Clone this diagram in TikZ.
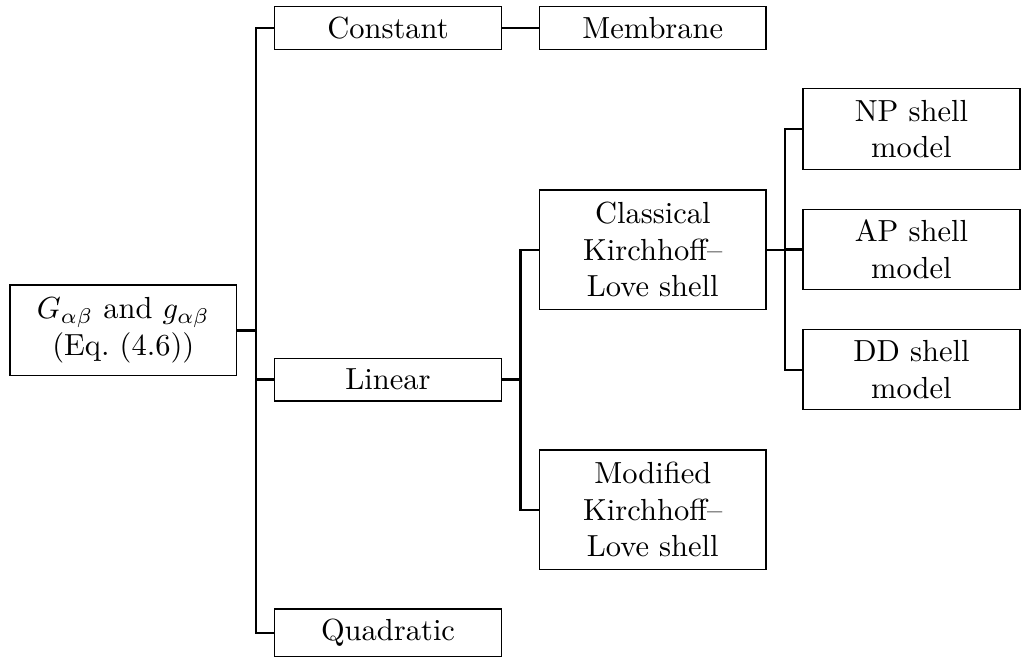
\documentclass[tikz,border=0pt]{standalone}
\usepackage{amsmath}
\usepackage{tikz}
\usetikzlibrary{calc,positioning}

\begin{document}
\begin{tikzpicture}[thick,
  box/.style={draw,thin,align=center,minimum width=2.62cm,minimum height=0.49cm},
  model box/.style={box,minimum width=2.5cm,minimum height=0.925cm}]

  \useasboundingbox (0,0) rectangle (11.762,-7.592);

  \node[box,minimum width=2.61cm,minimum height=1.045cm] (root) at (1.42,-3.805)
    {$G_{\alpha\beta}$ and $g_{\alpha\beta}$\\(Eq.~(4.6))};

  \node[box] (constant) at (4.47,-0.324) {Constant};
  \node[box] (linear) at (4.47,-4.374) {Linear};
  \node[box] (quadratic) at (4.47,-7.29) {Quadratic};

  \node[box,minimum width=2.61cm] (membrane) at (7.52,-0.324) {Membrane};
  \node[box,minimum width=2.61cm,minimum height=1.375cm] (classical) at (7.52,-2.877)
    {Classical\\Kirchhoff--\\Love shell};
  \node[box,minimum width=2.61cm,minimum height=1.375cm] (modified) at (7.52,-5.872)
    {Modified\\Kirchhoff--\\Love shell};

  \node[model box] (np) at (10.50,-1.486) {NP shell\\model};
  \node[model box] (ap) at (10.50,-2.872) {AP shell\\model};
  \node[model box] (dd) at (10.50,-4.259) {DD shell\\model};

  % first level
  \draw (root.east) -- ++(0.22,0) coordinate (t1) |- (constant.west);
  \draw (t1) |- (linear.west);
  \draw (t1) |- (quadratic.west);
  \draw (constant) -- (membrane);

  % Kirchhoff--Love branches
  \draw (linear.east) -- ++(0.21,0) coordinate (t2) |- (classical.west);
  \draw (t2) |- (modified.west);

  % shell models
  \draw (classical.east) -- ++(0.21,0) coordinate (t3) |- (np.west);
  \draw (t3) |- (ap.west);
  \draw (t3) |- (dd.west);
\end{tikzpicture}
\end{document}
